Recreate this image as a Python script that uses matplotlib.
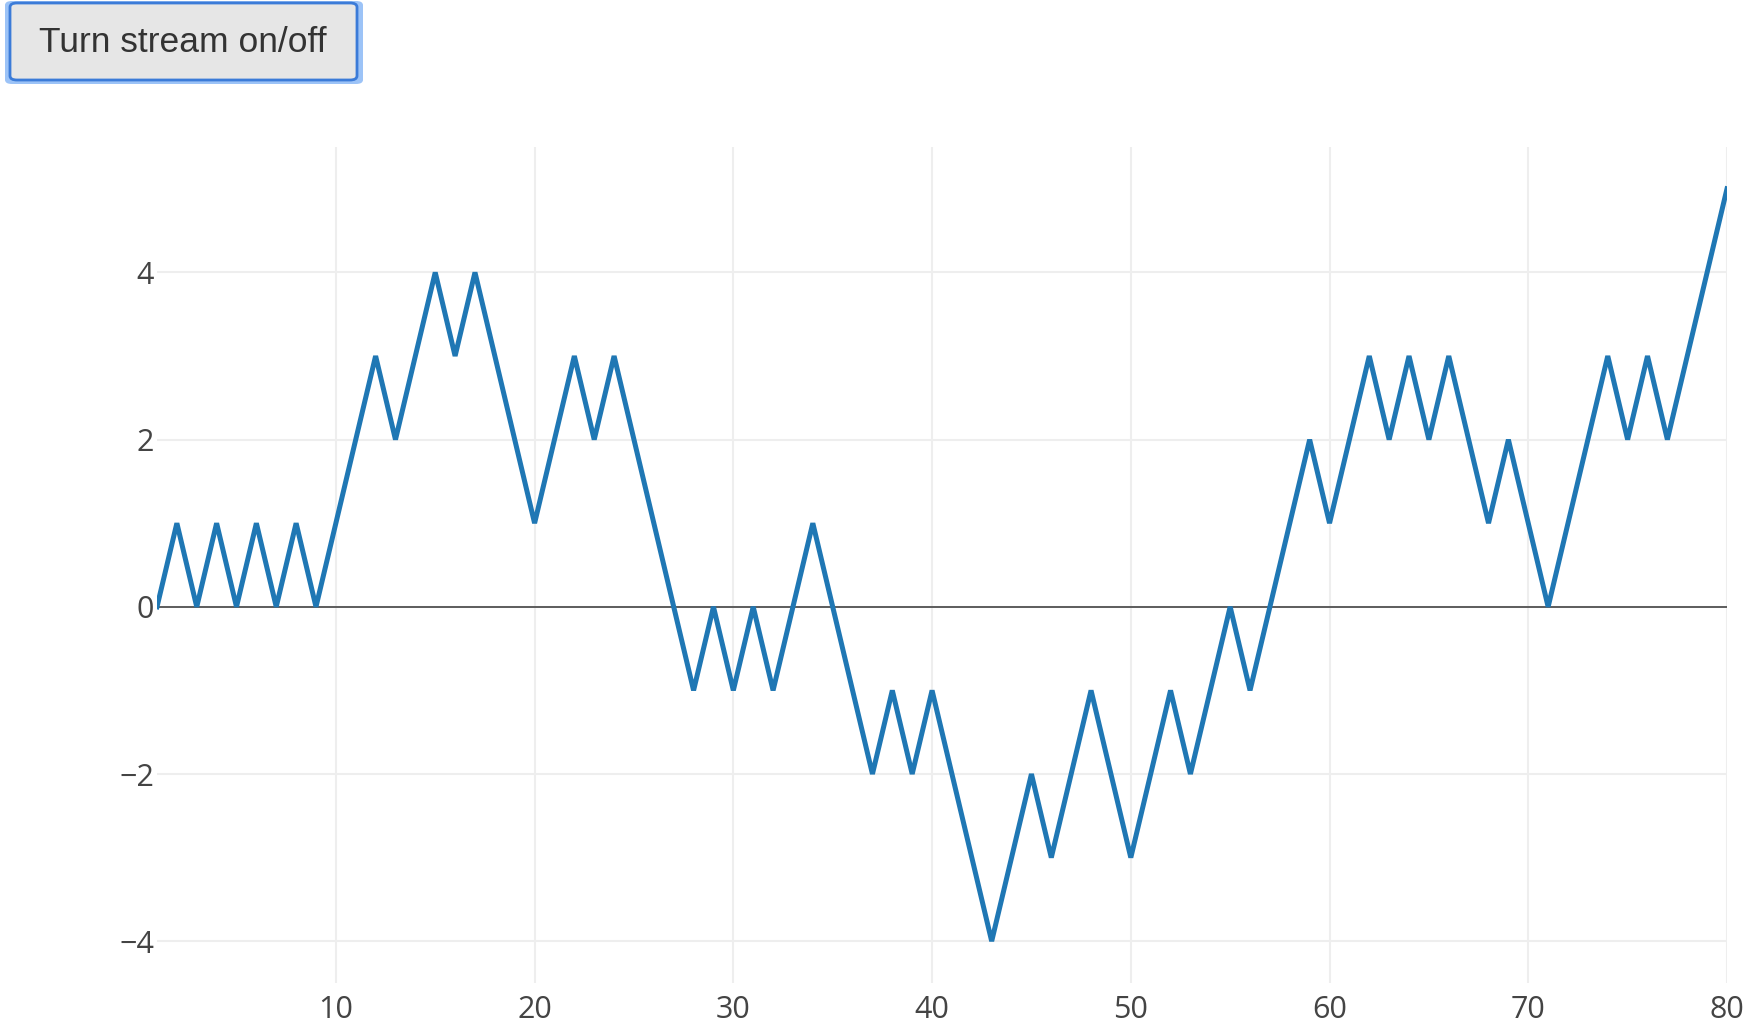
import matplotlib
matplotlib.use("Agg")
import matplotlib.pyplot as plt
from matplotlib.patches import FancyBboxPatch

# random walk, one value per step
steps = list(range(1, 81))
walk = [0, 1, 0, 1, 0, 1, 0, 1, 0, 1,
        2, 3, 2, 3, 4, 3, 4, 3, 2, 1,
        2, 3, 2, 3, 2, 1, 0, -1, 0, -1,
        0, -1, 0, 1, 0, -1, -2, -1, -2, -1,
        -2, -3, -4, -3, -2, -3, -2, -1, -2, -3,
        -2, -1, -2, -1, 0, -1, 0, 1, 2, 1,
        2, 3, 2, 3, 2, 3, 2, 1, 2, 1,
        0, 1, 2, 3, 2, 3, 2, 3, 4, 5]
x_ticks = [10, 20, 30, 40, 50, 60, 70, 80]
y_ticks = [-4, -2, 0, 2, 4]
button_label = "Turn stream on/off"

W, H = 1750, 1034
fig = plt.figure(figsize=(W / 100, H / 100), dpi=100)

# plot area in pixels: left 157, right 1727, top 147, bottom 983
ax = fig.add_axes([157 / W, 1 - 983 / H, (1727 - 157) / W, (983 - 147) / H])
ax.plot(steps, walk, color="#1f77b4", lw=3.6, solid_joinstyle="bevel", zorder=3)
ax.axhline(0, color="#444444", lw=1.2, zorder=2)

ax.set_xlim(1, 80)
ax.set_ylim(-4.5, 5.5)
ax.set_xticks(x_ticks)
ax.set_yticks(y_ticks)
ax.set_yticklabels([str(v).replace("-", "\u2212") for v in y_ticks])
ax.grid(True, color="#eeeeee", lw=1.5, zorder=0)
ax.set_axisbelow(True)
for s in ax.spines.values():
    s.set_visible(False)
ax.tick_params(length=0, labelsize=22, labelcolor="#444444")
ax.tick_params(axis="x", pad=9)
ax.tick_params(axis="y", pad=2)
for lab in ax.get_xticklabels() + ax.get_yticklabels():
    lab.set_family("Open Sans")

# the button above the plot
glow = FancyBboxPatch((5 / W, 1 - 84 / H), 358 / W, 83 / H,
                      boxstyle="round,pad=0,rounding_size=0.004",
                      transform=fig.transFigure, facecolor="#9cc3f7",
                      edgecolor="none", zorder=1)
btn = FancyBboxPatch((10 / W, 1 - 80 / H), 347 / W, 77 / H,
                     boxstyle="round,pad=0,rounding_size=0.004",
                     transform=fig.transFigure, facecolor="#e6e6e6",
                     edgecolor="#3b7bd8", lw=2, zorder=2)
fig.patches.extend([glow, btn])
fig.text(183 / W, 1 - 42 / H, button_label, ha="center", va="center",
         fontsize=25.5, color="#333333", family="Liberation Sans", zorder=3)

fig.savefig("out.png", dpi=100)
